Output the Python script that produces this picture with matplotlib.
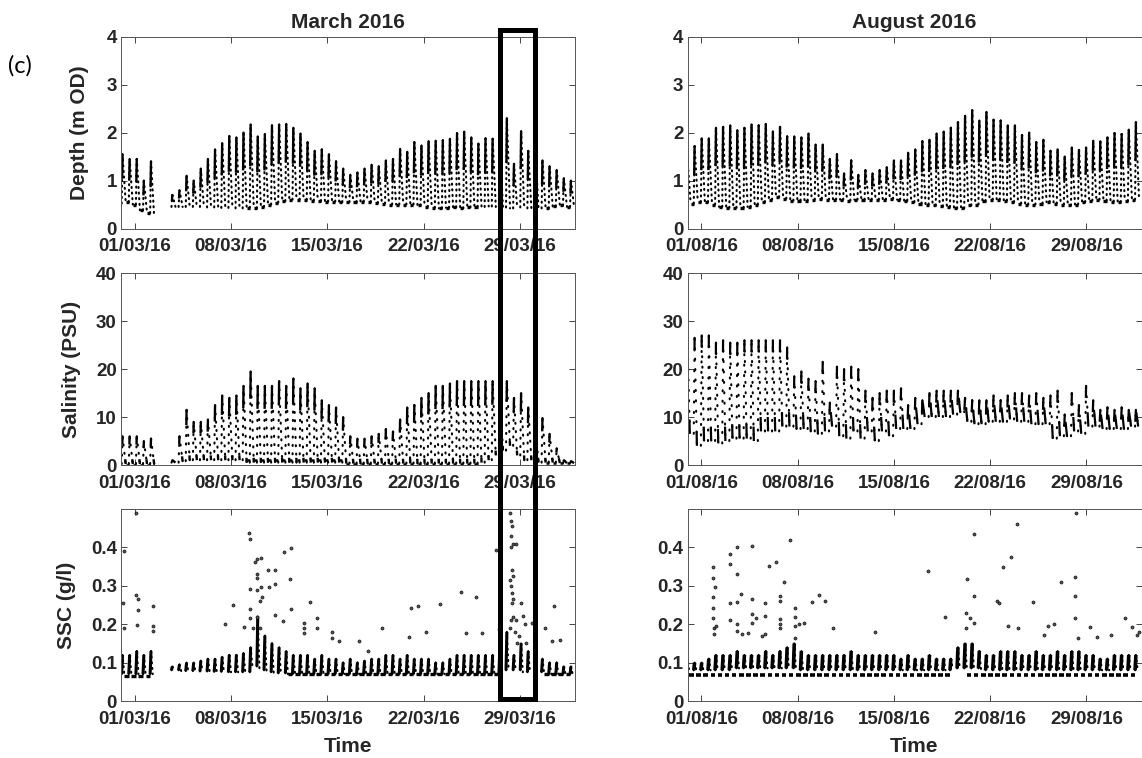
import numpy as np
import pandas as pd
import matplotlib
matplotlib.use("Agg")
import matplotlib.pyplot as plt
import matplotlib.dates as mdates
from matplotlib.collections import LineCollection
from matplotlib.patches import Rectangle
from matplotlib.ticker import FormatStrFormatter

nan = np.nan

# --- tide grid: one entry per high water (semi-diurnal) ---
HW_STEP = "745min"
mar_hw_start = "2016-02-29 02:40"
aug_hw_start = "2016-07-31 00:00"

# --- depth (m OD): high water, preceding low water, low-water plateau ---
mar_depth_hw = [1.55, 1.45, 1.45, 1.00, 1.40, nan, nan, 0.70, 0.80, 1.10,
                1.00, 1.25, 1.45, 1.65, 1.78, 1.93, 1.90, 2.00, 2.17, 1.92,
                1.97, 2.15, 2.17, 2.18, 2.10, 1.98, 1.80, 1.62, 1.65, 1.55,
                1.40, 1.25, 1.12, 1.17, 1.25, 1.33, 1.30, 1.42, 1.45, 1.66,
                1.60, 1.80, 1.73, 1.82, 1.83, 1.84, 1.87, 1.99, 2.02, 1.90,
                1.77, 1.88, 1.87, 1.88, 2.30, 1.35, 2.03, 1.62, 1.64, 1.42,
                1.30, 1.22, 1.05, 1.00]
mar_depth_lw = [0.52, 0.55, 0.50, 0.38, 0.32, 0.25, nan, 0.45, 0.45, 0.45,
                0.45, 0.45, 0.44, 0.44, 0.43, 0.43, 0.42, 0.42, 0.43, 0.42,
                0.45, 0.50, 0.54, 0.57, 0.60, 0.60, 0.60, 0.58, 0.57, 0.56,
                0.56, 0.55, 0.55, 0.55, 0.56, 0.55, 0.53, 0.52, 0.50, 0.50,
                0.50, 0.50, 0.48, 0.45, 0.43, 0.42, 0.43, 0.44, 0.42, 0.44,
                0.45, 0.45, 0.46, 0.45, 0.44, 0.42, 0.44, 0.42, 0.42, 0.42,
                0.42, 0.46, 0.48, 0.45]
mar_depth_flat = [0.52, 0.55, 0.50, 0.38, 0.32, nan, nan, nan, nan, nan,
                  nan, nan, nan, nan, nan, nan, nan, nan, 0.43, 0.42,
                  0.45, 0.50, 0.54, 0.57, 0.60, 0.60, 0.60, 0.58, 0.57, 0.56,
                  0.56, 0.55, 0.55, 0.55, 0.56, 0.55, 0.53, 0.52, 0.50, 0.50,
                  0.50, 0.50, 0.48, 0.45, 0.43, 0.42, 0.43, 0.44, 0.42, 0.44,
                  0.45, nan, nan, nan, nan, nan, nan, nan, nan, nan,
                  0.42, 0.46, 0.48, 0.45]
aug_depth_hw = [1.45, 1.72, 1.88, 1.88, 2.10, 2.12, 2.15, 2.05, 2.10, 2.17,
                2.15, 2.18, 2.02, 2.12, 1.92, 1.92, 1.90, 1.98, 1.75, 1.75,
                1.45, 1.55, 1.15, 1.42, 1.12, 1.22, 1.15, 1.22, 1.28, 1.42,
                1.42, 1.58, 1.65, 1.82, 1.85, 1.98, 2.02, 2.10, 2.22, 2.35,
                2.47, 2.25, 2.43, 2.27, 2.25, 2.15, 2.15, 1.95, 2.00, 1.80,
                1.85, 1.62, 1.65, 1.50, 1.69, 1.64, 1.69, 1.83, 1.82, 1.90,
                1.99, 1.97, 2.06, 2.22]
aug_depth_lw = [0.50, 0.52, 0.55, 0.55, 0.50, 0.45, 0.43, 0.43, 0.43, 0.45,
                0.50, 0.55, 0.60, 0.65, 0.62, 0.58, 0.58, 0.58, 0.60, 0.62,
                0.60, 0.60, 0.60, 0.58, 0.60, 0.60, 0.60, 0.60, 0.60, 0.62,
                0.60, 0.58, 0.55, 0.52, 0.50, 0.48, 0.46, 0.45, 0.42, 0.42,
                0.48, 0.50, 0.57, 0.60, 0.60, 0.58, 0.55, 0.52, 0.50, 0.50,
                0.52, 0.55, 0.52, 0.50, 0.48, 0.50, 0.55, 0.58, 0.60, 0.58,
                0.56, 0.55, 0.57, 0.60]

# --- salinity (PSU) ---
mar_sal_hw = [6.0, 6.0, 6.0, 5.0, 5.5, nan, nan, 1.0, 6.0, 11.5,
              9.0, 9.0, 9.5, 12.5, 14.5, 14.0, 14.5, 16.5, 19.5, 16.5,
              16.5, 16.5, 17.5, 16.5, 18.0, 16.0, 17.0, 16.0, 13.5, 12.5,
              12.0, 10.0, 6.0, 5.5, 5.5, 6.0, 6.5, 7.5, 7.0, 9.5,
              12.0, 12.5, 14.0, 15.0, 16.5, 16.5, 17.0, 17.5, 17.5, 17.5,
              17.5, 17.5, 17.5, 17.5, 17.5, 14.0, 15.0, 12.0, 8.0, 9.8,
              6.5, 3.5, 1.0, 0.8]
mar_sal_lw = [0.2, 0.2, 0.2, 0.2, 0.2, 0.2, nan, 0.5, 0.5, 0.8,
              1.0, 1.0, 1.0, 1.0, 1.0, 1.0, 1.0, 1.0, 0.5, 0.5,
              0.5, 0.5, 0.5, 0.5, 0.5, 0.5, 0.5, 0.5, 0.5, 0.5,
              0.5, 0.5, 0.3, 0.3, 0.3, 0.3, 0.3, 0.3, 0.3, 0.3,
              0.3, 0.3, 0.3, 0.3, 0.3, 0.3, 0.3, 0.3, 0.3, 0.3,
              0.3, 0.5, 1.0, 2.0, 3.0, 4.0, 2.0, 1.0, 1.0, 0.5,
              0.5, 0.5, 0.4, 0.4]
mar_sal_flat = [0.1, 0.1, 0.1, 0.1, 0.1, nan, nan, nan, nan, nan,
                nan, nan, nan, nan, nan, nan, nan, nan, 1.0, 1.0,
                1.0, 1.0, 1.0, 1.0, 1.0, 1.0, 1.0, 1.0, 1.0, 1.0,
                1.0, 1.0, 0.15, 0.15, 0.15, 0.15, 0.15, 0.15, 0.15, 0.15,
                0.15, 0.15, 0.15, 0.15, 0.15, 0.15, 0.15, 0.15, 0.15, 0.15,
                0.15, nan, nan, nan, nan, nan, nan, nan, nan, nan,
                0.4, 0.4, 0.4, 0.4]
aug_sal_hw = [26.5, 26.5, 27.0, 27.0, 25.5, 26.0, 25.5, 25.5, 26.0, 26.0,
              26.0, 26.0, 26.0, 26.0, 24.5, 18.5, 19.5, 18.0, 17.5, 21.5,
              13.0, 20.5, 20.0, 20.5, 20.0, 15.5, 14.0, 15.0, 15.5, 15.5,
              16.0, 12.5, 14.0, 13.5, 15.0, 15.5, 15.5, 15.5, 15.5, 14.0,
              13.5, 13.5, 13.5, 14.5, 13.5, 14.5, 15.0, 15.0, 14.5, 15.0,
              14.0, 14.5, 15.5, 10.5, 15.0, 12.5, 16.5, 13.5, 11.5, 12.0,
              11.5, 12.0, 11.5, 11.5]
aug_sal_lw = [7.0, 6.5, 4.0, 5.0, 5.0, 4.5, 5.0, 5.5, 5.5, 5.5,
              5.0, 7.0, 7.0, 7.0, 8.0, 8.0, 7.5, 7.5, 7.0, 6.5,
              7.0, 8.0, 6.0, 5.5, 7.0, 5.5, 7.0, 5.0, 7.0, 6.0,
              7.5, 7.5, 7.5, 8.5, 10.0, 10.0, 10.0, 10.0, 10.5, 11.0,
              9.0, 8.5, 8.5, 9.0, 9.0, 9.0, 9.5, 9.0, 9.0, 8.5,
              8.5, 8.5, 5.5, 6.0, 6.0, 7.0, 6.5, 8.0, 8.0, 7.5,
              7.5, 7.5, 7.5, 8.0]

# --- SSC (g/l): tidal band top/bottom and background floor ---
mar_ssc_hw = [0.12, 0.12, 0.13, 0.12, 0.13, nan, nan, 0.09, 0.095, 0.10,
              0.10, 0.105, 0.11, 0.11, 0.115, 0.12, 0.12, 0.125, 0.14, 0.22,
              0.17, 0.15, 0.14, 0.13, 0.12, 0.12, 0.12, 0.11, 0.12, 0.11,
              0.11, 0.10, 0.11, 0.10, 0.105, 0.11, 0.11, 0.12, 0.12, 0.11,
              0.12, 0.11, 0.11, 0.11, 0.10, 0.10, 0.11, 0.12, 0.12, 0.12,
              0.12, 0.12, 0.12, 0.13, 0.18, 0.12, 0.15, 0.13, 0.11, 0.11,
              0.10, 0.10, 0.09, 0.09]
mar_ssc_lw = [0.07, 0.07, 0.07, 0.07, 0.07, 0.07, nan, 0.08, 0.08, 0.078,
              0.078, 0.077, 0.077, 0.076, 0.076, 0.075, 0.075, 0.075, 0.075, 0.09,
              0.08, 0.075, 0.072, 0.072, 0.07, 0.07, 0.07, 0.07, 0.07, 0.07,
              0.07, 0.07, 0.07, 0.07, 0.07, 0.07, 0.07, 0.07, 0.07, 0.07,
              0.07, 0.07, 0.07, 0.07, 0.07, 0.07, 0.07, 0.07, 0.07, 0.07,
              0.07, 0.07, 0.07, 0.07, 0.08, 0.08, 0.08, 0.075, 0.075, 0.075,
              0.07, 0.07, 0.07, 0.07]
mar_ssc_flat = [0.065, 0.065, 0.065, 0.065, 0.065, nan, nan, nan, nan, nan,
                nan, nan, nan, nan, nan, nan, nan, nan, nan, nan,
                nan, nan, nan, nan, 0.07, 0.07, 0.07, 0.07, 0.07, 0.07,
                0.07, 0.07, 0.07, 0.07, 0.07, 0.07, 0.07, 0.07, 0.07, 0.07,
                0.07, 0.07, 0.07, 0.07, 0.07, 0.07, 0.07, 0.07, 0.07, 0.07,
                0.07, 0.07, 0.07, 0.07, nan, nan, nan, nan, nan, nan,
                0.07, 0.07, 0.07, 0.07]
aug_ssc_hw = [0.10, 0.10, 0.10, 0.11, 0.12, 0.12, 0.12, 0.13, 0.12, 0.12,
              0.12, 0.13, 0.12, 0.13, 0.14, 0.15, 0.13, 0.12, 0.12, 0.12,
              0.12, 0.12, 0.12, 0.13, 0.12, 0.12, 0.12, 0.12, 0.12, 0.12,
              0.11, 0.12, 0.11, 0.11, 0.12, 0.11, 0.11, 0.11, 0.14, 0.15,
              0.15, 0.13, 0.12, 0.12, 0.13, 0.13, 0.13, 0.12, 0.12, 0.13,
              0.12, 0.12, 0.13, 0.12, 0.13, 0.13, 0.12, 0.12, 0.11, 0.11,
              0.12, 0.12, 0.12, 0.12]
aug_ssc_lw = [0.08, 0.08, 0.08, 0.08, 0.08, 0.08, 0.08, 0.085, 0.085, 0.085,
              0.085, 0.085, 0.085, 0.085, 0.085, 0.085, 0.08, 0.08, 0.08, 0.08,
              0.08, 0.08, 0.08, 0.08, 0.08, 0.08, 0.08, 0.08, 0.08, 0.08,
              0.08, 0.08, 0.08, 0.08, 0.08, 0.08, 0.08, 0.08, 0.085, 0.085,
              0.085, 0.085, 0.08, 0.08, 0.08, 0.08, 0.08, 0.08, 0.08, 0.08,
              0.08, 0.08, 0.08, 0.08, 0.08, 0.08, 0.08, 0.08, 0.08, 0.08,
              0.08, 0.08, 0.08, 0.08]
aug_ssc_flat = [0.068, 0.068, 0.068, 0.068, 0.068, 0.068, 0.068, 0.068, 0.068, 0.068,
                0.068, 0.068, 0.068, 0.068, 0.068, 0.068, 0.068, 0.068, 0.068, 0.068,
                0.068, 0.068, 0.068, 0.068, 0.068, 0.068, 0.068, 0.068, 0.068, 0.068,
                0.068, 0.068, 0.068, 0.068, 0.068, 0.068, 0.068, 0.068, nan, nan,
                0.068, 0.068, 0.068, 0.068, 0.068, 0.068, 0.068, 0.068, 0.068, 0.068,
                0.068, 0.068, 0.068, 0.068, 0.068, 0.068, 0.068, 0.068, 0.068, 0.068,
                0.068, 0.068, 0.068, 0.068]

# isolated high SSC samples (day of month, g/l)
mar_spike_day = [0.20, 0.15, 0.20, 1.07, 1.12, 1.27, 1.20, 1.17, 2.29, 2.34,
                 2.34, 8.17, 7.56, 9.34, 9.39, 9.75, 9.87, 10.21, 9.87, 9.87,
                 9.39, 9.87, 10.19, 10.10, 10.24, 10.68, 10.73, 11.16, 11.16, 11.23,
                 11.77, 11.82, 12.38, 12.26, 12.38, 9.39, 9.39, 9.87, 8.97, 9.63,
                 10.07, 13.28, 13.28, 13.30, 13.76, 14.22, 14.22, 15.35, 15.35, 15.84,
                 17.32, 17.95, 19.00, 21.05, 21.59, 20.97, 22.17, 23.18, 24.75, 25.78,
                 25.10, 26.23, 27.26, 27.45,
                 28.26, 28.34, 28.40, 28.34, 28.50, 28.34, 28.70, 28.40, 28.50, 28.30,
                 28.34, 28.40, 28.50, 28.40, 28.50, 28.34, 28.70, 28.26, 28.64, 28.76,
                 29.07, 29.20, 29.34, 28.90, 29.88, 29.47, 30.82, 31.44, 31.90, 31.36]
mar_spike_val = [0.390, 0.254, 0.190, 0.490, 0.276, 0.265, 0.237, 0.198, 0.247, 0.195,
                 0.182, 0.250, 0.200, 0.437, 0.421, 0.363, 0.370, 0.373, 0.330, 0.320,
                 0.291, 0.290, 0.298, 0.260, 0.270, 0.341, 0.297, 0.341, 0.305, 0.224,
                 0.209, 0.389, 0.398, 0.317, 0.240, 0.240, 0.215, 0.220, 0.193, 0.190,
                 0.190, 0.202, 0.190, 0.176, 0.258, 0.215, 0.190, 0.180, 0.165, 0.157,
                 0.157, 0.130, 0.190, 0.241, 0.247, 0.167, 0.180, 0.252, 0.283, 0.270,
                 0.176, 0.176, 0.393, 0.187,
                 0.490, 0.470, 0.455, 0.430, 0.410, 0.400, 0.410, 0.340, 0.325, 0.315,
                 0.300, 0.280, 0.265, 0.255, 0.220, 0.210, 0.210, 0.190, 0.180, 0.150,
                 0.256, 0.222, 0.200, 0.170, 0.204, 0.150, 0.190, 0.248, 0.160, 0.157]
aug_spike_day = [1.82, 1.82, 1.82, 1.82, 1.82, 1.90, 1.95, 2.03, 2.10, 3.10,
                 3.10, 3.10, 3.10, 3.60, 3.60, 3.60, 3.60, 3.60, 3.90, 3.95,
                 4.40, 4.71, 4.71, 4.71, 4.71, 5.00, 5.63, 5.63, 5.40, 5.63,
                 5.94, 6.40, 6.70, 6.75, 6.70, 6.75, 6.75, 6.98, 7.45, 7.80,
                 7.80, 7.80, 7.80, 8.49, 8.10, 9.02, 9.53, 10.03, 10.58, 13.65,
                 17.47, 18.75, 20.21, 20.35, 20.79, 20.79, 20.85, 20.50, 20.21, 22.48,
                 22.66, 22.95, 23.52, 23.97, 24.05, 23.30, 25.08, 26.24, 25.93, 26.65,
                 27.14, 28.21, 28.18, 28.18, 28.20, 28.35, 29.25, 29.80, 30.80, 31.81,
                 32.34, 32.80, 32.70]
aug_spike_val = [0.348, 0.320, 0.270, 0.243, 0.217, 0.190, 0.174, 0.296, 0.196, 0.383,
                 0.357, 0.255, 0.210, 0.402, 0.332, 0.257, 0.200, 0.183, 0.278, 0.174,
                 0.176, 0.404, 0.265, 0.226, 0.204, 0.217, 0.254, 0.222, 0.170, 0.174,
                 0.352, 0.363, 0.274, 0.261, 0.213, 0.200, 0.190, 0.309, 0.419, 0.242,
                 0.219, 0.196, 0.165, 0.204, 0.200, 0.257, 0.277, 0.261, 0.191, 0.180,
                 0.339, 0.220, 0.230, 0.317, 0.435, 0.274, 0.204, 0.217, 0.190, 0.261,
                 0.255, 0.350, 0.376, 0.461, 0.191, 0.196, 0.257, 0.196, 0.171, 0.200,
                 0.311, 0.489, 0.324, 0.273, 0.215, 0.165, 0.192, 0.167, 0.172, 0.215,
                 0.192, 0.180, 0.172]

INK = "black"


def _on_seg(p0, p1, y):
    """Point on segment p0-p1 at height y (clipped to the segment)."""
    dy = p1[1] - p0[1]
    f = 1.0 if dy == 0 else min(max((y - p0[1]) / dy, 0.0), 1.0)
    return (p0[0] + f * (p1[0] - p0[0]), p0[1] + f * dy)


def draw_tides(ax, start, hw, lw, flat=None, top=0.0, bot=0.0, flood_h=1.5,
               ebb_h=5.5, lw_dense=1.7, lw_flat=2.4, gap=2.2):
    """Flood/ebb limbs of each tide: dotted limbs, solid near-HW and near-LW parts."""
    t = mdates.date2num(pd.date_range(start, periods=len(hw), freq=HW_STEP))
    flood, ebb = flood_h / 24, ebb_h / 24
    hw = np.asarray(hw, float)
    lw = np.asarray(lw, float)
    top = np.broadcast_to(np.asarray(top, float), hw.shape)
    lw_next = np.append(lw[1:], lw[-1])
    dense, sparse, plateau = [], [], []
    for i in range(len(hw)):
        if np.isnan(hw[i]):
            continue
        lo0 = lw[i] if not np.isnan(lw[i]) else hw[i]
        lo1 = lw_next[i] if not np.isnan(lw_next[i]) else lo0
        a = (t[i] - flood, lo0)
        b = (t[i], hw[i])
        c = (t[i] + ebb, lo1)
        sparse += [[a, b], [b, c]]
        dense.append([_on_seg(a, b, hw[i] - top[i]), b])
        if bot > 0:
            dense.append([_on_seg(b, c, lo1 + bot), c])
        if flat is not None and i > 0 and not np.isnan(flat[i]) and not np.isnan(hw[i - 1]):
            plateau.append([(t[i - 1] + ebb, flat[i]), (t[i] - flood, flat[i])])
    ax.add_collection(LineCollection(sparse, colors=INK, linewidths=1.5,
                                     linestyles=[(0, (0.5, gap))], capstyle="round"))
    ax.add_collection(LineCollection(dense, colors=INK, linewidths=lw_dense))
    if plateau:
        ax.add_collection(LineCollection(plateau, colors=INK, linewidths=lw_flat))


def draw_spikes(ax, month_start, days, vals):
    x = pd.Timestamp(month_start) + pd.to_timedelta(np.asarray(days) - 1, unit="D")
    ax.scatter(x, vals, s=5, marker="o", facecolor="#555555", edgecolor=INK,
               linewidths=0.4, zorder=3)


plt.rcParams.update({
    "font.family": ["Liberation Sans", "DejaVu Sans"],
    "font.weight": "bold",
    "axes.labelweight": "bold",
    "axes.titleweight": "bold",
    "text.color": "#262626",
    "axes.labelcolor": "#262626",
    "xtick.color": "#262626",
    "ytick.color": "#262626",
})

fig = plt.figure(figsize=(11.42, 7.58), dpi=100)

col_x = [121 / 1142, 687.5 / 1142]
col_w = 454 / 1142
row_y = [1 - 228.5 / 758, 1 - 465 / 758, 1 - 701 / 758]
row_h = 192 / 758

months = [("2016-02-29", "2016-04-02", "2016-03-01"),
          ("2016-07-31", "2016-09-02", "2016-08-01")]

axes = [[fig.add_axes([col_x[c], row_y[r], col_w, row_h]) for c in range(2)]
        for r in range(3)]

# depth
draw_tides(axes[0][0], mar_hw_start, mar_depth_hw, mar_depth_lw, mar_depth_flat,
           top=0.5 * (np.array(mar_depth_hw) - np.array(mar_depth_lw)))
draw_tides(axes[0][1], aug_hw_start, aug_depth_hw, aug_depth_lw, aug_depth_lw,
           top=0.5 * (np.array(aug_depth_hw) - np.array(aug_depth_lw)))
# salinity
draw_tides(axes[1][0], mar_hw_start, mar_sal_hw, mar_sal_lw, mar_sal_flat,
           top=0.3 * (np.array(mar_sal_hw) - np.array(mar_sal_lw)), bot=1.0,
           lw_flat=1.8, gap=3.5)
draw_tides(axes[1][1], aug_hw_start, aug_sal_hw, aug_sal_lw, None,
           top=2.5, bot=3.0, ebb_h=4.0, lw_dense=1.6, gap=4.5)
# SSC
draw_tides(axes[2][0], mar_hw_start, mar_ssc_hw, mar_ssc_lw, mar_ssc_flat,
           top=np.array(mar_ssc_hw) - np.array(mar_ssc_lw),
           ebb_h=3.0, lw_dense=2.2, lw_flat=2.4)
draw_tides(axes[2][1], aug_hw_start, aug_ssc_hw, aug_ssc_lw, aug_ssc_flat,
           top=np.array(aug_ssc_hw) - np.array(aug_ssc_lw),
           ebb_h=3.0, lw_dense=2.6, lw_flat=2.6)
draw_spikes(axes[2][0], "2016-03-01", mar_spike_day, mar_spike_val)
draw_spikes(axes[2][1], "2016-08-01", aug_spike_day, aug_spike_val)

ylims = [(0, 4), (0, 40), (0, 0.5)]
yticks = [[0, 1, 2, 3, 4], [0, 10, 20, 30, 40], [0, 0.1, 0.2, 0.3, 0.4]]
ylabels = ["Depth (m OD)", "Salinity (PSU)", "SSC (g/l)"]
ylabel_x = [-0.0705, -0.088, -0.099]

for r in range(3):
    for c in range(2):
        ax = axes[r][c]
        x0, x1, first = months[c]
        ax.set_xlim(pd.Timestamp(x0), pd.Timestamp(x1))
        ax.set_ylim(*ylims[r])
        ax.set_yticks(yticks[r])
        ax.yaxis.set_major_formatter(FormatStrFormatter("%g"))
        ax.set_xticks(pd.date_range(first, periods=5, freq="7D"))
        ax.xaxis.set_major_formatter(mdates.DateFormatter("%d/%m/%y"))
        ax.tick_params(direction="in", length=4, width=0.6, top=True, right=True,
                       labelsize=13.5)
        ax.tick_params(axis="x", pad=7)
        ax.tick_params(axis="y", pad=3)
        for s in ax.spines.values():
            s.set_color("#555555")
            s.set_linewidth(0.7)
        if c == 0:
            ax.set_ylabel(ylabels[r], fontsize=15)
            ax.yaxis.set_label_coords(ylabel_x[r], 0.5)
        if r == 2:
            ax.set_xlabel("Time", fontsize=15)
            ax.xaxis.set_label_coords(0.5, -0.19)

axes[0][0].set_title("March 2016", fontsize=15, pad=6)
axes[0][1].set_title("August 2016", fontsize=15, pad=6)

fig.text(8 / 1142, 1 - 66 / 758, "(c)", fontsize=17, fontweight="normal",
         family=["Lato", "DejaVu Sans"], color="black", va="center", ha="left")

# highlight box around the 28-29 March event
fig.add_artist(Rectangle((499.5 / 1142, 1 - 698.5 / 758), 35 / 1142, 669 / 758,
                         transform=fig.transFigure, fill=False,
                         edgecolor="black", linewidth=3.6, zorder=10))

fig.savefig("out.png", dpi=100)
